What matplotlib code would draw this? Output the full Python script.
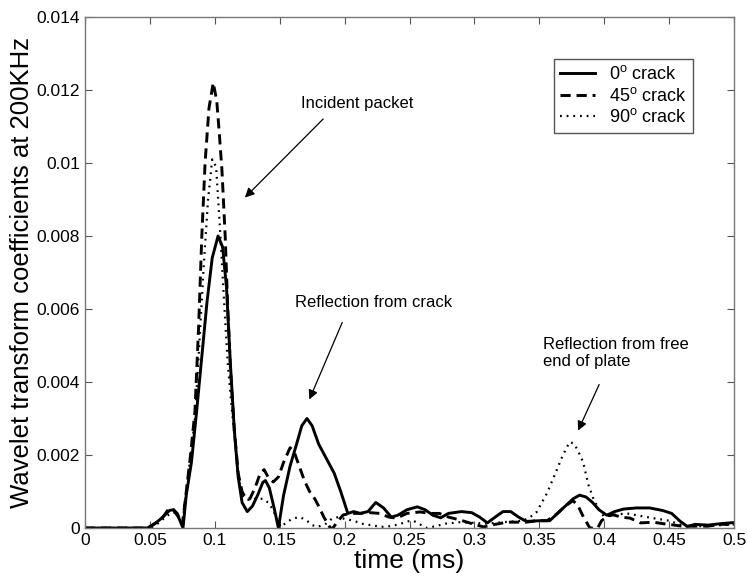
import numpy as np
import matplotlib
matplotlib.use("Agg")
import matplotlib.pyplot as plt

plt.rcParams['font.family'] = ['Liberation Sans', 'DejaVu Sans']
plt.rcParams['mathtext.fontset'] = 'custom'
plt.rcParams['mathtext.rm'] = 'Liberation Sans'

# 0 degree crack (solid)
t0 = [0, 0.048, 0.055, 0.060, 0.065, 0.068, 0.072, 0.0755, 0.078, 0.082, 0.086, 0.090,
      0.094, 0.098, 0.1025, 0.106, 0.109, 0.112, 0.115, 0.118, 0.121, 0.125, 0.129, 0.133,
      0.137, 0.139, 0.142, 0.146, 0.149, 0.153, 0.158, 0.163, 0.167, 0.171, 0.175, 0.180,
      0.186, 0.192, 0.197, 0.2025, 0.207, 0.212, 0.218, 0.224, 0.230, 0.236, 0.241, 0.248,
      0.256, 0.262, 0.268, 0.274, 0.280, 0.290, 0.298, 0.304, 0.310, 0.316, 0.322, 0.328,
      0.334, 0.340, 0.350, 0.358, 0.364, 0.370, 0.376, 0.381, 0.386, 0.391, 0.396, 0.402,
      0.408, 0.415, 0.425, 0.435, 0.445, 0.452, 0.458, 0.464, 0.470, 0.480, 0.490, 0.500]
v0 = [0, 0, 0.00015, 0.0003, 0.00048, 0.0005, 0.0003, 0.0, 0.0009, 0.0018, 0.0032, 0.0047,
      0.0062, 0.0074, 0.0080, 0.0077, 0.0066, 0.0045, 0.0027, 0.0014, 0.0007, 0.00045, 0.0006, 0.0009,
      0.00125, 0.0013, 0.0011, 0.0005, 0.0, 0.0009, 0.0017, 0.0023, 0.0028, 0.0030, 0.0028, 0.0023,
      0.0019, 0.0015, 0.0010, 0.0004, 0.00045, 0.0004, 0.00045, 0.0007, 0.00055, 0.0003, 0.00035, 0.0005,
      0.00058, 0.0005, 0.00035, 0.00028, 0.0004, 0.00045, 0.00042, 0.0003, 0.00014, 0.0003, 0.00045, 0.00045,
      0.0003, 0.00018, 0.0002, 0.0002, 0.0004, 0.0006, 0.0008, 0.0009, 0.00085, 0.0007, 0.0005, 0.00035,
      0.00045, 0.00052, 0.00055, 0.00055, 0.00048, 0.0004, 0.0002, 0.00004, 0.0001, 0.00008, 0.00012, 0.00015]

# 45 degree crack (dashed)
t45 = [0, 0.049, 0.055, 0.060, 0.064, 0.067, 0.071, 0.075, 0.078, 0.081, 0.0847, 0.0875,
       0.090, 0.0925, 0.0955, 0.0988, 0.1015, 0.1035, 0.1055, 0.108, 0.110, 0.112, 0.115, 0.118,
       0.121, 0.124, 0.127, 0.131, 0.135, 0.138, 0.141, 0.145, 0.149, 0.153, 0.158, 0.161,
       0.165, 0.169, 0.173, 0.177, 0.180, 0.184, 0.189, 0.191, 0.195, 0.199, 0.205, 0.212,
       0.220, 0.227, 0.234, 0.240, 0.248, 0.258, 0.266, 0.273, 0.280, 0.289, 0.298, 0.307,
       0.316, 0.325, 0.333, 0.340, 0.348, 0.356, 0.364, 0.370, 0.376, 0.380, 0.384, 0.389,
       0.395, 0.398, 0.403, 0.407, 0.413, 0.420, 0.428, 0.438, 0.445, 0.450, 0.460, 0.470,
       0.480, 0.490, 0.500]
v45 = [0, 0, 0.00015, 0.0003, 0.0005, 0.00055, 0.0004, 0.0001, 0.0010, 0.0019, 0.0032, 0.0055,
       0.0080, 0.0100, 0.0115, 0.0122, 0.0117, 0.0108, 0.0098, 0.0080, 0.0060, 0.0044, 0.0027, 0.0015,
       0.0010, 0.0008, 0.0008, 0.0011, 0.0015, 0.0016, 0.0014, 0.00126, 0.0014, 0.0018, 0.0022, 0.0021,
       0.0017, 0.0013, 0.0010, 0.0008, 0.0006, 0.0003, 0.0, 0.0, 0.0002, 0.00036, 0.0004, 0.0004,
       0.00042, 0.0004, 0.0003, 0.00027, 0.0004, 0.00044, 0.0004, 0.0004, 0.0003, 0.00022, 0.00012, 0.00003,
       0.0001, 0.00016, 0.00016, 0.00016, 0.0002, 0.0002, 0.0004, 0.0006, 0.00075, 0.0006, 0.0003, 0.0,
       0.0, 0.0002, 0.00033, 0.00036, 0.0003, 0.00027, 0.00014, 0.00016, 0.00012, 0.0001, 0.00005, 0.00005,
       0.00005, 0.0001, 0.0001]

# 90 degree crack (dotted)
t90 = [0, 0.050, 0.056, 0.062, 0.066, 0.069, 0.072, 0.075, 0.078, 0.081, 0.0847, 0.088,
       0.0915, 0.0948, 0.098, 0.101, 0.104, 0.107, 0.110, 0.113, 0.1155, 0.118, 0.121, 0.125,
       0.131, 0.137, 0.141, 0.145, 0.148, 0.151, 0.155, 0.160, 0.1656, 0.171, 0.175, 0.179,
       0.185, 0.190, 0.195, 0.200, 0.207, 0.213, 0.220, 0.228, 0.235, 0.242, 0.248, 0.253,
       0.258, 0.2635, 0.270, 0.278, 0.289, 0.300, 0.310, 0.322, 0.330, 0.3375, 0.343, 0.348,
       0.352, 0.356, 0.360, 0.3636, 0.367, 0.371, 0.3737, 0.377, 0.380, 0.3838, 0.3877, 0.3917,
       0.396, 0.400, 0.405, 0.4175, 0.428, 0.4377, 0.450, 0.458, 0.464, 0.470, 0.480, 0.490, 0.500]
v90 = [0, 0, 0.00012, 0.0003, 0.0004, 0.00042, 0.0003, 0.0001, 0.0010, 0.0019, 0.0030, 0.0050,
       0.0072, 0.0090, 0.0101, 0.0099, 0.0082, 0.0063, 0.0045, 0.0033, 0.0024, 0.0014, 0.0009, 0.00077,
       0.0008, 0.0008, 0.0007, 0.0005, 0.0002, 0.00003, 0.00015, 0.00026, 0.0003, 0.0002, 0.00008, 0.00003,
       0.0001, 0.00025, 0.0003, 0.00025, 0.0002, 0.00012, 0.00008, 0.00003, 0.00005, 0.0001, 0.00018, 0.0002,
       0.0001, 0.0, 0.00005, 0.00012, 0.00016, 0.00014, 0.00012, 0.00016, 0.00018, 0.0002, 0.0003, 0.00044,
       0.0007, 0.00096, 0.0013, 0.0016, 0.0019, 0.0022, 0.00236, 0.0023, 0.0021, 0.0018, 0.0012, 0.0008,
       0.0005, 0.0003, 0.00035, 0.0004, 0.00033, 0.00027, 0.0002, 0.0001, 0.00005, 0.00005, 0.00005, 0.00008, 0.0001]

xticks = [0, 0.05, 0.1, 0.15, 0.2, 0.25, 0.3, 0.35, 0.4, 0.45, 0.5]
xticklabels = ['0', '0.05', '0.1', '0.15', '0.2', '0.25', '0.3', '0.35', '0.4', '0.45', '0.5']
yticks = [0, 0.002, 0.004, 0.006, 0.008, 0.01, 0.012, 0.014]
yticklabels = ['0', '0.002', '0.004', '0.006', '0.008', '0.01', '0.012', '0.014']

fig = plt.figure(figsize=(7.47, 5.77), dpi=100)
ax = fig.add_axes([0.1138, 0.0849, 0.8688, 0.8856])

ax.plot(t0, v0, color='k', lw=2.1, ls='-', label='0$^{\\mathrm{o}}$ crack')
ax.plot(t45, v45, color='k', lw=2.1, dashes=(3.5, 2.0), label='45$^{\\mathrm{o}}$ crack')
ax.plot(t90, v90, color='k', lw=1.6, dashes=(0.8, 2.2), label='90$^{\\mathrm{o}}$ crack')

ax.set_xlim(0, 0.5)
ax.set_ylim(0, 0.014)
ax.set_xticks(xticks)
ax.set_xticklabels(xticklabels)
ax.set_yticks(yticks)
ax.set_yticklabels(yticklabels)
ax.tick_params(direction='in', top=True, right=True, labelsize=12.5, length=5, color='#555555')
for s in ax.spines.values():
    s.set_color('#777777')
    s.set_linewidth(1.0)

ax.set_xlabel('time (ms)', fontsize=19, labelpad=1)
ax.set_ylabel('Wavelet transform coefficients at 200KHz', fontsize=18.5, labelpad=2)

leg = ax.legend(loc='upper right', bbox_to_anchor=(0.937, 0.918), borderaxespad=0,
                fontsize=13, handlelength=1.9, fancybox=False, framealpha=1, borderpad=0.35,
                labelspacing=0.2, handletextpad=0.8)
leg.get_frame().set_edgecolor('#555555')
leg.get_frame().set_linewidth(1.0)

# annotations
arrow = dict(arrowstyle='-|>', color='k', lw=0.9, mutation_scale=14)
ax.text(0.1664, 0.01164, 'Incident packet', fontsize=12, va='center')
ax.annotate('', xy=(0.1217, 0.0090), xytext=(0.185, 0.01126), arrowprops=arrow)
ax.text(0.1618, 0.00619, 'Reflection from crack', fontsize=12, va='center')
ax.annotate('', xy=(0.172, 0.00345), xytext=(0.199, 0.0057), arrowprops=arrow)
ax.text(0.3529, 0.0048, 'Reflection from free\nend of plate', fontsize=12, va='center',
        linespacing=1.15)
ax.annotate('', xy=(0.379, 0.0026), xytext=(0.397, 0.0040), arrowprops=arrow)

fig.savefig('out.png', dpi=100)
